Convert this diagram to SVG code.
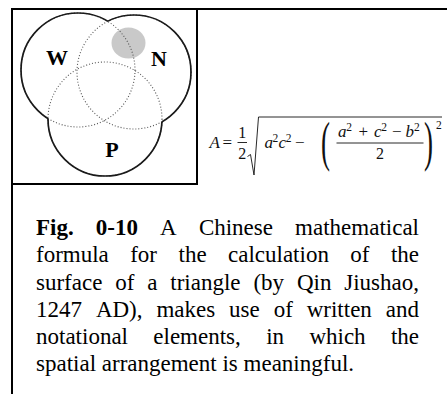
<svg xmlns="http://www.w3.org/2000/svg" width="447" height="394" viewBox="0 0 447 394">
<style>
.frame{stroke:#000;stroke-width:2;fill:none}
.solid{fill:none;stroke:#1a1a1a;stroke-width:1.7}
.dot{fill:none;stroke:#555;stroke-width:1.1;stroke-dasharray:1 2}
.lbl{font-family:"Liberation Serif",serif;font-weight:bold;font-size:22px;fill:#000;text-anchor:middle}
.m{font-family:"Liberation Serif",serif;font-size:17px;fill:#111}
.f{font-family:"Liberation Serif",serif;font-size:16px;fill:#111}
.mi{font-family:"Liberation Serif",serif;font-style:italic;font-size:17px;fill:#111}
.s{font-family:"Liberation Serif",serif;font-size:11.5px;fill:#111}
.bp{font-family:"Liberation Serif",serif;font-size:54px;fill:#111}
.bar{stroke:#111;stroke-width:0.9;fill:none}
.cap{font-family:"Liberation Serif",serif;font-size:23px;fill:#000}
.b{font-weight:bold}
</style>
<defs>
<mask id="mW" maskUnits="userSpaceOnUse" x="0" y="0" width="447" height="394"><rect width="447" height="394" fill="#fff"/><circle cx="134" cy="72" r="57" fill="#000"/><circle cx="105" cy="119" r="57" fill="#000"/></mask>
<mask id="mN" maskUnits="userSpaceOnUse" x="0" y="0" width="447" height="394"><rect width="447" height="394" fill="#fff"/><circle cx="78" cy="70" r="57" fill="#000"/><circle cx="105" cy="119" r="57" fill="#000"/></mask>
<mask id="mP" maskUnits="userSpaceOnUse" x="0" y="0" width="447" height="394"><rect width="447" height="394" fill="#fff"/><circle cx="78" cy="70" r="57" fill="#000"/><circle cx="134" cy="72" r="57" fill="#000"/></mask>
</defs>
<rect width="447" height="394" fill="#fff"/>
<g id="frame">
<path class="frame" d="M11,9H447M12,8V394M197,8V185M11,184H198"/>
</g>
<g id="venn">
<ellipse id="shade" cx="128.5" cy="43" rx="17" ry="15.5" fill="#c9c9c9"/>
<g id="connectors">
<circle class="dot" cx="78" cy="70" r="57"/>
<circle class="dot" cx="134" cy="72" r="57"/>
<circle class="dot" cx="105" cy="119" r="57"/>
<circle class="solid" cx="78" cy="70" r="57" mask="url(#mW)"/>
<circle class="solid" cx="134" cy="72" r="57" mask="url(#mN)"/>
<circle class="solid" cx="105" cy="119" r="57" mask="url(#mP)"/>
</g>
<g id="W"><text class="lbl" x="57" y="65">W</text></g>
<g id="N"><text class="lbl" x="159" y="66">N</text></g>
<g id="P"><text class="lbl" x="112" y="157">P</text></g>
</g>
<g id="formula">
<text class="mi" x="209.5" y="148">A</text>
<text class="m" x="222.5" y="148">=</text>
<text class="f" x="238.3" y="137.5">1</text>
<path class="bar" d="M237.5,142.5H247"/>
<text class="f" x="238.3" y="158.5">2</text>
<polyline class="bar" points="247.5,156.5 250.5,154.5 254,175 258.5,117 442,117"/>
<text class="mi" x="264.5" y="148.3">a</text>
<text class="s" x="272.5" y="141.5">2</text>
<text class="mi" x="278.5" y="148.3">c</text>
<text class="s" x="285.8" y="141.5">2</text>
<text class="m" x="295" y="148.3">−</text>
<text class="bp" transform="translate(321,160) scale(0.5,1)">(</text>
<text class="mi" x="338" y="137">a</text>
<text class="s" x="346.2" y="130.5">2</text>
<text class="m" x="358.5" y="137">+</text>
<text class="mi" x="374" y="137">c</text>
<text class="s" x="381.3" y="130.5">2</text>
<text class="m" x="392" y="137">−</text>
<text class="mi" x="405.5" y="137">b</text>
<text class="s" x="414" y="130.5">2</text>
<path class="bar" d="M336.5,143H423.5"/>
<text class="f" x="376" y="159">2</text>
<text class="bp" transform="translate(424,160) scale(0.5,1)">)</text>
<text class="s" x="436" y="128.5">2</text>
</g>
<g id="caption" class="cap">
<text y="235"><tspan class="b" x="36">Fig.</tspan><tspan class="b" x="95.8">0-10</tspan><tspan x="160.1">A</tspan><tspan x="198.9">Chinese</tspan><tspan x="295.1">mathematical</tspan></text>
<text y="262"><tspan x="36">formula</tspan><tspan x="130.2">for</tspan><tspan x="178.5">the</tspan><tspan x="228">calculation</tspan><tspan x="350.3">of</tspan><tspan x="390.9">the</tspan></text>
<text y="289.5"><tspan x="36">surface</tspan><tspan x="115.2">of</tspan><tspan x="147.2">a</tspan><tspan x="170.3">triangle</tspan><tspan x="253.4">(by</tspan><tspan x="296.9">Qin</tspan><tspan x="344.2">Jiushao,</tspan></text>
<text y="316.5"><tspan x="36">1247</tspan><tspan x="95.9">AD),</tspan><tspan x="156.4">makes</tspan><tspan x="229.1">use</tspan><tspan x="273.7">of</tspan><tspan x="306.7">written</tspan><tspan x="385.8">and</tspan></text>
<text y="343.5"><tspan x="36">notational</tspan><tspan x="153.3">elements,</tspan><tspan x="266.2">in</tspan><tspan x="309.4">which</tspan><tspan x="390.9">the</tspan></text>
<text x="36" y="370.5">spatial arrangement is meaningful.</text>
</g>
</svg>
